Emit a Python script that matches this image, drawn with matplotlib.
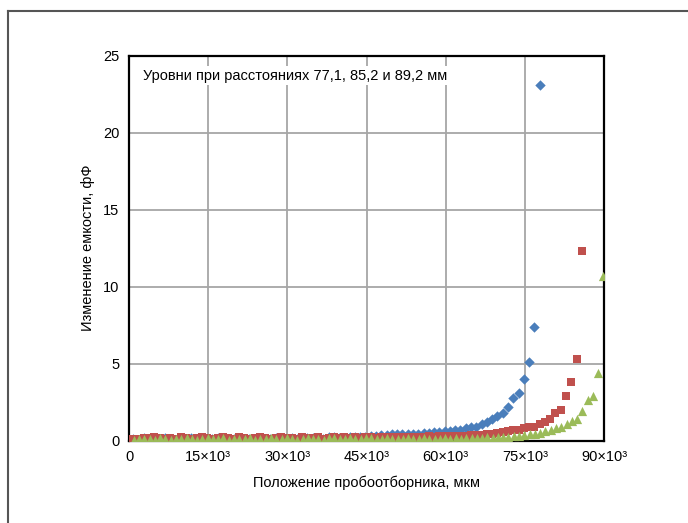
import numpy as np
import matplotlib
matplotlib.use("Agg")
import matplotlib.pyplot as plt
from matplotlib.lines import Line2D

plt.rcParams["font.family"] = ["Liberation Sans", "DejaVu Sans"]

# probe positions, um (1 um step grid per series)
X_BLUE = np.arange(800, 77801, 1000)
X_RED = np.arange(800, 85801, 1000)
X_GREEN = np.arange(900, 89901, 1000)

# capacitance change, fF
Y_BLUE = [
    0.10, 0.05, 0.15, 0.08, 0.12, 0.05, 0.18, 0.10, 0.02, 0.06,
    0.12, 0.15, 0.08, 0.05, 0.02, 0.10, 0.14, 0.12, 0.08, 0.10,
    0.15, 0.12, 0.10, 0.08, 0.15, 0.12, 0.10, 0.14, 0.18, 0.12,
    0.15, 0.10, 0.12, 0.18, 0.15, 0.12, 0.10, 0.20, 0.22, 0.18,
    0.15, 0.20, 0.22, 0.25, 0.22,
    0.30, 0.30, 0.35, 0.35, 0.40, 0.40, 0.40, 0.45, 0.45, 0.45,
    0.50, 0.50, 0.55,
    0.58, 0.60, 0.60, 0.65, 0.70, 0.80, 0.85, 0.90, 1.10, 1.20,
    1.37, 1.60, 1.76, 2.15, 2.75, 3.10, 4.00, 5.10, 7.40, 23.10,
]
Y_RED = [
    0.12, 0.10, 0.15, 0.18, 0.20, 0.15, 0.10, 0.18, 0.12, 0.20,
    0.15, 0.10, 0.18, 0.20, 0.15, 0.12, 0.18, 0.20, 0.15, 0.10,
    0.20, 0.18, 0.12, 0.15, 0.20, 0.18, 0.10, 0.15, 0.20, 0.18,
    0.15, 0.12, 0.20, 0.18, 0.15, 0.20, 0.10, 0.18, 0.20, 0.15,
    0.22, 0.18, 0.20, 0.15, 0.22, 0.20, 0.18, 0.22, 0.25, 0.20,
    0.22, 0.25, 0.20, 0.25, 0.22, 0.25, 0.28, 0.25, 0.28, 0.30,
    0.28, 0.30, 0.32, 0.30, 0.35, 0.35,
    0.38, 0.42, 0.45, 0.50, 0.55, 0.60, 0.70, 0.70, 0.78, 0.85,
    0.90, 1.05, 1.20, 1.40, 1.80, 2.00, 2.90, 3.80, 5.30, 12.30,
]
Y_GREEN = [
    0.05, 0.10, 0.08, 0.12, 0.05, 0.15, 0.10, 0.05, 0.12, 0.08,
    0.15, 0.10, 0.05, 0.12, 0.18, 0.08, 0.10, 0.15, 0.05, 0.12,
    0.10, 0.08, 0.15, 0.05, 0.10, 0.12, 0.18, 0.10, 0.08, 0.15,
    0.12, 0.05, 0.10, 0.15, 0.12, 0.08, 0.05, 0.15, 0.18, 0.12,
    0.10, 0.15, 0.12, 0.08, 0.15, 0.18, 0.12, 0.10, 0.15, 0.12,
    0.10, 0.12, 0.15, 0.10, 0.12, 0.15, 0.12, 0.10, 0.12, 0.15,
    0.12, 0.15, 0.12, 0.15, 0.18, 0.15, 0.18, 0.20, 0.18, 0.20,
    0.22, 0.25, 0.27, 0.30, 0.35, 0.40, 0.45, 0.50, 0.60, 0.65,
    0.78, 0.90, 1.05, 1.25, 1.37, 1.90, 2.60, 2.90, 4.40, 10.70,
]

X_TICKS = [0, 15000, 30000, 45000, 60000, 75000, 90000]
X_TICK_LABELS = ["0", "15×10³", "30×10³", "45×10³", "60×10³", "75×10³", "90×10³"]
Y_TICKS = [0, 5, 10, 15, 20, 25]

fig = plt.figure(figsize=(6.88, 5.23), dpi=100)
ax = fig.add_axes([129 / 688, 1 - 440.5 / 523, 475 / 688, 385 / 523])

ax.scatter(X_BLUE, Y_BLUE, marker="D", s=28, color="#4a7ebb", linewidths=0, zorder=3)
ax.scatter(X_RED, Y_RED, marker="s", s=36, color="#c0504d", linewidths=0, zorder=4)
ax.scatter(X_GREEN, Y_GREEN, marker="^", s=44, color="#9bbb59", linewidths=0, zorder=5)

ax.set_xlim(0, 90000)
ax.set_ylim(0, 25)
ax.set_xticks(X_TICKS)
ax.set_xticklabels(X_TICK_LABELS)
ax.set_yticks(Y_TICKS)
ax.tick_params(axis="both", length=0, labelsize=10.5, pad=7)
ax.grid(True, color="#a6a6a6", linewidth=1.3)
ax.set_axisbelow(True)
for sp in ax.spines.values():
    sp.set_linewidth(1.6)
    sp.set_color("#000000")

ax.set_xlabel("Положение пробоотборника, мкм", fontsize=10.5, labelpad=8)
ax.set_ylabel("Изменение емкости, фФ", fontsize=10.5, labelpad=6)

ax.text(0.03, 0.948, "Уровни при расстояниях 77,1, 85,2 и 89,2 мм",
        transform=ax.transAxes, fontsize=10.5, va="center", ha="left",
        bbox=dict(facecolor="white", edgecolor="none", pad=2), zorder=6)

# outer chart frame, runs off the right and bottom of the image
fig.add_artist(Line2D([8 / 688, 1.0], [1 - 11 / 523, 1 - 11 / 523],
                      color="#555555", linewidth=1.5))
fig.add_artist(Line2D([8 / 688, 8 / 688], [0.0, 1 - 11 / 523],
                      color="#555555", linewidth=1.5))

fig.savefig("out.png", dpi=100, facecolor="white")
